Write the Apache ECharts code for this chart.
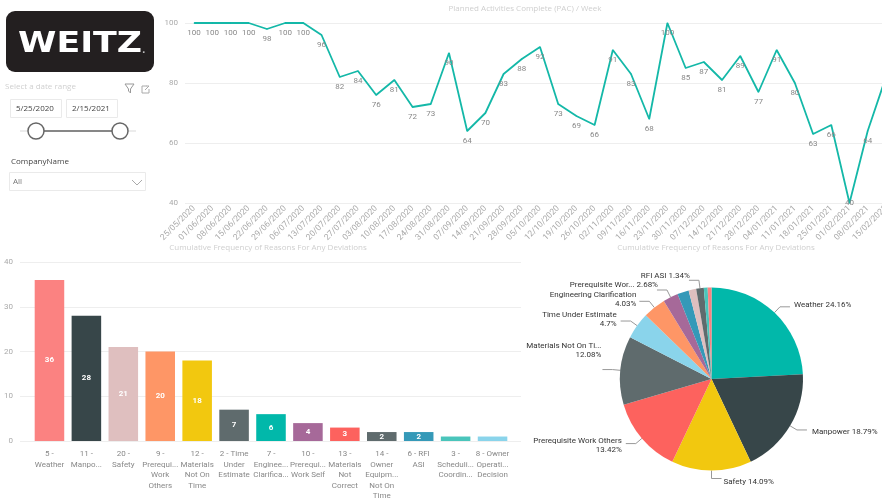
<!DOCTYPE html>
<html>
<head>
<meta charset="utf-8">
<title>Weitz PAC dashboard</title>
<script src="https://cdn.jsdelivr.net/npm/echarts@6/dist/echarts.min.js"></script>
<style>
  html, body { margin: 0; padding: 0; background: #fff; overflow: hidden; }
  #chart { width: 882px; height: 500px; }
</style>
</head>
<body>
<div id="chart"></div>
<script>
const weeks = ['25/05/2020', '01/06/2020', '08/06/2020', '15/06/2020', '22/06/2020', '29/06/2020', '06/07/2020',
  '13/07/2020', '20/07/2020', '27/07/2020', '03/08/2020', '10/08/2020', '17/08/2020', '24/08/2020', '31/08/2020',
  '07/09/2020', '14/09/2020', '21/09/2020', '28/09/2020', '05/10/2020', '12/10/2020', '19/10/2020', '26/10/2020',
  '02/11/2020', '09/11/2020', '16/11/2020', '23/11/2020', '30/11/2020', '07/12/2020', '14/12/2020', '21/12/2020',
  '28/12/2020', '04/01/2021', '11/01/2021', '18/01/2021', '25/01/2021', '01/02/2021', '08/02/2021', '15/02/2021'];
const pacValues = [100, 100, 100, 100, 98, 100, 100, 96, 82, 84, 76, 81, 72, 73, 90, 64, 70, 83, 88, 92, 73, 69, 66,
  91, 83, 68, 100, 85, 87, 81, 89, 77, 91, 80, 63, 66, 40, 64, 82];

const reasonTicks = ['5 -\nWeather', '11 -\nManpo...', '20 -\nSafety', '9 -\nPrerequi...\nWork\nOthers',
  '12 -\nMaterials\nNot On\nTime', '2 - Time\nUnder\nEstimate', '7 -\nEnginee...\nClarifica...',
  '10 -\nPrerequi...\nWork Self', '13 -\nMaterials\nNot\nCorrect', '14 -\nOwner\nEquipm...\nNot On\nTime',
  '6 - RFI\nASI', '3 -\nScheduli...\nCoordin...', '8 - Owner\nOperati...\nDecision'];
const reasonCounts = [36, 28, 21, 20, 18, 7, 6, 4, 3, 2, 2, 1, 1];
const barColors = ['#FB8281', '#374649', '#DFBFBF', '#FE9666', '#F2C80F', '#5F6B6D', '#01B8AA', '#A66999',
  '#FD625E', '#5F6B6D', '#3599B8', '#4AC5BB', '#8AD4EB'];

const pieNames = ['Weather', 'Manpower', 'Safety', 'Prerequisite Work Others', 'Materials Not On Ti...',
  'Time Under Estimate', 'Engineering Clarification', 'Prerequisite Wor...', 'Materials Not Correct',
  'Owner Equipment Not On Time', 'RFI ASI', 'Scheduling Coordination', 'Owner Operating Decision'];
const pieCounts = [36, 28, 21, 20, 18, 7, 6, 4, 3, 2, 2, 1, 1];
const pieColors = ['#01B8AA', '#374649', '#F2C80F', '#FD625E', '#5F6B6D', '#8AD4EB', '#FE9666', '#A66999',
  '#3599B8', '#DFBFBF', '#5F6B6D', '#4AC5BB', '#FB8281'];
const pieLabelSeparators = [' ', ' ', ' ', '\n', '\n', '\n', '\n', ' ', null, null, ' ', null, null];

const LABEL_FONT = 'Roboto, "Noto Sans", sans-serif';
const UI_FONT = '"Open Sans", "Noto Sans", sans-serif';
const GRID_COLOR = '#eeeeee';

// nudges from the default pie label spot, in slice order
const pieLabelDx = [-1, 0, -3, 1, 4, 1, 2, 6, 0, 0, 6, 0, 0];
const pieLabelDy = [-2, 2, 3, 2, -19, -2, -2, -5, 0, 0, -4, 0, 0];

const pctText = (count) => {
  const total = pieCounts.reduce((a, b) => a + b, 0);
  return Number((count / total * 100).toFixed(2)) + '%';
};

const slicerText = (x, y, text, fill) => ({
  type: 'text', x, y,
  style: { text, fill, font: '8px ' + UI_FONT, verticalAlign: 'middle' }
});

const slicerGraphics = [
  { type: 'rect', shape: { x: 6, y: 11, width: 148, height: 61, r: 9 }, style: { fill: '#231f20' } },
  { type: 'text', x: 18, y: 30, scaleX: 1.2, style: { text: 'WEITZ', fill: '#fff', font: 'bold 29px "DejaVu Sans"' } },
  { type: 'text', x: 142, y: 46, style: { text: '.', fill: '#bbb', font: 'bold 9px "DejaVu Sans"' } },
  slicerText(5, 87, 'Select a date range', '#d0d0d0'),
  { type: 'polyline', shape: { points: [[125, 84], [134, 84], [130.5, 89], [130.5, 93], [128.5, 91], [128.5, 89], [125, 84]] },
    style: { fill: 'none', stroke: '#999', lineWidth: 1 } },
  { type: 'polyline', shape: { points: [[147, 86], [142, 86], [142, 93], [149, 93], [149, 89]] },
    style: { fill: 'none', stroke: '#aaa', lineWidth: 1 } },
  { type: 'polyline', shape: { points: [[145, 90], [149, 86], [146.5, 86]] },
    style: { fill: 'none', stroke: '#aaa', lineWidth: 1 } },
  { type: 'rect', shape: { x: 10.5, y: 99.5, width: 51, height: 18 }, style: { fill: '#fff', stroke: '#eaeaea' } },
  { type: 'rect', shape: { x: 66.5, y: 99.5, width: 51, height: 18 }, style: { fill: '#fff', stroke: '#eaeaea' } },
  slicerText(16, 109, '5/25/2020', '#444'),
  slicerText(72, 109, '2/15/2021', '#444'),
  { type: 'line', shape: { x1: 20, y1: 131, x2: 136, y2: 131 }, style: { stroke: '#e6e6e6', lineWidth: 1.5 } },
  { type: 'line', shape: { x1: 36, y1: 131, x2: 120, y2: 131 }, style: { stroke: '#666', lineWidth: 1.5 } },
  { type: 'circle', shape: { cx: 36, cy: 131, r: 8 }, style: { fill: '#fff', stroke: '#666', lineWidth: 1.5 } },
  { type: 'circle', shape: { cx: 120, cy: 131, r: 8 }, style: { fill: '#fff', stroke: '#666', lineWidth: 1.5 } },
  slicerText(11, 162, 'CompanyName', '#444'),
  { type: 'rect', shape: { x: 9.5, y: 172.5, width: 136, height: 18 }, style: { fill: '#fff', stroke: '#eaeaea' } },
  slicerText(13, 182, 'All', '#777'),
  { type: 'polyline', shape: { points: [[132, 180], [137, 185], [142, 180]] },
    style: { fill: 'none', stroke: '#aaa', lineWidth: 1 } }
];

const chart = echarts.init(document.getElementById('chart'), null, { renderer: 'canvas' });

const titleStyle = { color: '#cfcfcf', fontSize: 8, fontWeight: 'normal', fontFamily: UI_FONT };

chart.setOption({
  animation: false,
  backgroundColor: '#fff',
  graphic: slicerGraphics,
  title: [
    { text: 'Planned Activities Complete (PAC) / Week', left: 520, top: 0, textAlign: 'center', textStyle: titleStyle },
    { text: 'Cumulative Frequency of Reasons For Any Deviations', left: 263, top: 239, textAlign: 'center', textStyle: titleStyle },
    { text: 'Cumulative Frequency of Reasons For Any Deviations', left: 711, top: 239, textAlign: 'center', textStyle: titleStyle }
  ],
  grid: [
    { left: 185, width: 710, top: 23, height: 180, outerBoundsMode: 'none' },
    { left: 20, width: 501, top: 262, height: 179, outerBoundsMode: 'none' },
    { left: 31, width: 480, top: 262, height: 179, outerBoundsMode: 'none' }
  ],
  xAxis: [
    { gridIndex: 0, type: 'category', data: weeks,
      axisLine: { show: false }, axisTick: { show: false },
      axisLabel: { interval: 0, rotate: 45, margin: 4, color: '#aaa', fontSize: 8.5, fontFamily: LABEL_FONT } },
    { gridIndex: 1, type: 'category', data: [], show: false },
    { gridIndex: 2, type: 'category', data: reasonTicks,
      axisLine: { show: false }, axisTick: { show: false },
      axisLabel: { interval: 0, margin: 8, color: '#888', fontSize: 8, lineHeight: 10.5, fontFamily: LABEL_FONT } }
  ],
  yAxis: [
    { gridIndex: 0, type: 'value', min: 40, max: 100, interval: 20,
      axisLabel: { margin: 7, color: '#aaa', fontSize: 8, fontFamily: LABEL_FONT },
      splitLine: { lineStyle: { color: GRID_COLOR } } },
    { gridIndex: 1, type: 'value', min: 0, max: 40, interval: 10,
      axisLabel: { margin: 7, color: '#aaa', fontSize: 8, fontFamily: LABEL_FONT },
      splitLine: { lineStyle: { color: GRID_COLOR } } },
    { gridIndex: 2, type: 'value', min: 0, max: 40, interval: 10, show: false, splitLine: { show: false } }
  ],
  series: [
    {
      type: 'line', xAxisIndex: 0, yAxisIndex: 0, symbol: 'circle', symbolSize: 1, showSymbol: true, showAllSymbol: true,
      data: pacValues.map((v) => (v === 40 ? { value: v, label: { position: 'inside' } } : v)),
      itemStyle: { color: '#01B8AA' },
      lineStyle: { color: '#14B8A8', width: 1.8 },
      label: { show: true, position: 'bottom', distance: 5, color: '#888', fontSize: 8, fontFamily: LABEL_FONT }
    },
    { type: 'bar', xAxisIndex: 1, yAxisIndex: 1, data: [] },
    {
      type: 'bar', xAxisIndex: 2, yAxisIndex: 2, barCategoryGap: '20%',
      data: reasonCounts.map((v, i) => ({
        value: v,
        itemStyle: { color: barColors[i] },
        label: { show: v > 1 }
      })),
      label: { position: 'inside', color: '#fff', fontSize: 8, fontWeight: 'bold', fontFamily: LABEL_FONT }
    },
    {
      type: 'pie', center: [711.5, 379], radius: [0, 91.5], startAngle: 90, clockwise: true, avoidLabelOverlap: false,
      data: pieCounts.map((v, i) => ({
        name: pieNames[i],
        value: v,
        itemStyle: { color: pieColors[i] },
        label: { show: pieLabelSeparators[i] !== null },
        labelLine: { show: pieLabelSeparators[i] !== null }
      })),
      label: {
        color: '#333', fontSize: 8, lineHeight: 9, fontFamily: LABEL_FONT, overflow: 'none',
        formatter: (p) => p.name + pieLabelSeparators[p.dataIndex] + pctText(p.value)
      },
      labelLine: { length: 8, length2: 10, lineStyle: { color: '#999', width: 1 } },
      labelLayout: (p) => ({ dx: pieLabelDx[p.dataIndex], dy: pieLabelDy[p.dataIndex] })
    }
  ]
});
</script>
</body>
</html>
